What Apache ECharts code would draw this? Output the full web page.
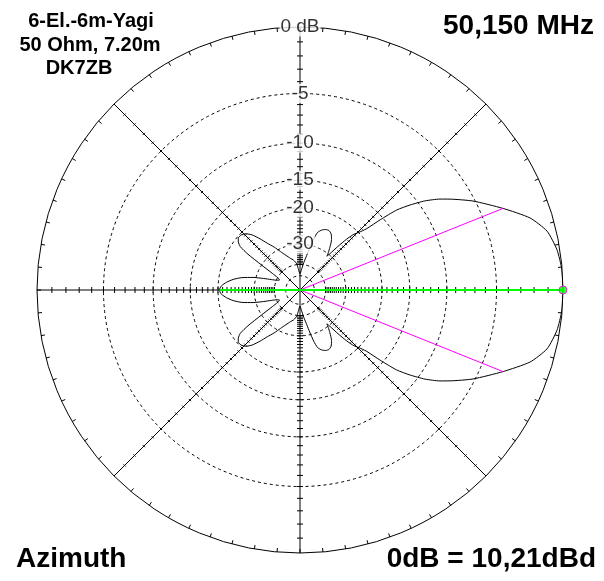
<!DOCTYPE html>
<html><head><meta charset="utf-8">
<script src="https://cdn.jsdelivr.net/npm/echarts@6/dist/echarts.min.js"></script>
<style>html,body{margin:0;padding:0;background:#fff}#c{width:604px;height:581px}</style>
</head><body><div id="c"></div>
<script>
// Azimuth in degrees (0 = forward, counter-clockwise); upper half, mirrored for the lower half
const patternAngles = [0,4.4,8.9,13.4,17.4,21.9,27.2,31.2,33,35.5,37.7,39.6,41.2,42.7,44.5,46,47.5,49,50.5,51.5,53,55,58,61,64,67,70,73,75,77,79,82,86,90,94,97,102,107,112,117,121,125,128,131,134,137,140,142,144,145.5,147,149,151,154,157,160,162.5,165,168,171,174,177,180];
const patternDb     = [0,-0.02,-0.19,-0.6,-1.5,-3.16,-5.17,-6.95,-7.8,-9.25,-10.95,-12.7,-15.5,-18.4,-20,-21,-23,-26,-29.5,-31,-29.5,-27.8,-25.5,-24.2,-23.7,-23.8,-24.3,-25.3,-27.5,-31,-34.5,-38.5,-44,-48,-44,-39.5,-37,-35.5,-33.5,-31,-28.5,-26.2,-24,-22,-20.8,-20.3,-20.3,-20.8,-21.8,-24.5,-30,-36,-40,-42,-40.5,-37,-33,-29,-25.5,-23.3,-21.8,-20.7,-20.3];
const ringDb = [-5,-10,-15,-20,-30,-40,-50];
const ringLabelDb = [0,-5,-10,-15,-20,-30];
const ringLabels = ['0 dB','-5','-10','-15','-20','-30'];
const radialAngles = [0,45,90,135,180,225,270,315];
const tickDb = Array.from({length:40},(_,i)=>-(i+1));
const beamAngles = [21.9,-21.9];
const beamDb = -3.16;
const frontDb = 0;
const backDb = -20.3;
const infoLines = ['6-El.-6m-Yagi','50 Ohm, 7.20m','DK7ZB'];
const freqText = '50,150 MHz';
const viewText = 'Azimuth';
const refText = '0dB = 10,21dBd';

// ARRL log-periodic radial scale
const sc = db => Math.pow(0.89, -db/2);

const patternData = [];
patternAngles.forEach((a,i)=>patternData.push([sc(patternDb[i]), a]));
for (let i = patternAngles.length-2; i >= 0; i--) patternData.push([sc(patternDb[i]), 360-patternAngles[i]]);

const tickData = [];
radialAngles.forEach(a => tickDb.forEach(d => tickData.push([sc(d), a, a % 90 === 0 ? 3 : 1.5])));

const chart = echarts.init(document.getElementById('c'), null, {renderer:'canvas'});
const FONT = '"Liberation Sans", Arial, sans-serif';
chart.setOption({
  animation:false,
  backgroundColor:'#fff',
  polar:{center:[300,290], radius:263},
  angleAxis:{type:'value', min:0, max:360, interval:5, startAngle:0, clockwise:false,
    axisLine:{lineStyle:{color:'#000', width:1}},
    axisTick:{show:true, inside:true, length:4, lineStyle:{color:'#000', width:1}},
    axisLabel:{show:false}, splitLine:{show:false}},
  radiusAxis:{type:'value', min:0, max:1, axisLine:{show:false}, axisTick:{show:false}, axisLabel:{show:false}, splitLine:{show:false}},
  graphic:[
    ...infoLines.map((t,i)=>({type:'text', x:[91,90,79][i], y:21.5+23.5*i, style:{text:t, font:'bold 20px '+FONT, fill:'#000', align:'center', verticalAlign:'middle'}})),
    {type:'text', x:594, y:26, style:{text:freqText, font:'bold 28px '+FONT, fill:'#000', align:'right', verticalAlign:'middle'}},
    {type:'text', x:16, y:559, style:{text:viewText, font:'bold 28px '+FONT, fill:'#000', align:'left', verticalAlign:'middle'}},
    {type:'text', x:596, y:559, style:{text:refText, font:'bold 28px '+FONT, fill:'#000', align:'right', verticalAlign:'middle'}}
  ],
  series:[
    {type:'custom', coordinateSystem:'polar', silent:true, z:1,
      data: ringDb.map(d=>[sc(d),0]),
      renderItem:(p,api)=>{const c=api.coord([0,0]); const q=api.coord([api.value(0),0]);
        return {type:'circle', shape:{cx:c[0], cy:c[1], r:Math.hypot(q[0]-c[0],q[1]-c[1])}, style:{fill:null, stroke:'#000', lineWidth:1, lineDash:[3,3]}};}},
    {type:'custom', coordinateSystem:'polar', silent:true, z:2,
      data: radialAngles.map(a=>[1,a]),
      renderItem:(p,api)=>{const c=api.coord([0,0]); const q=api.coord([1,api.value(1)]);
        return {type:'line', shape:{x1:c[0], y1:c[1], x2:q[0], y2:q[1]}, style:{stroke:'#000', lineWidth:1}};}},
    {type:'custom', coordinateSystem:'polar', silent:true, z:2,
      data: tickData,
      renderItem:(p,api)=>{const a=api.value(1)*Math.PI/180; const q=api.coord([api.value(0),api.value(1)]); const h=api.value(2);
        const px=Math.sin(a)*h, py=Math.cos(a)*h;
        return {type:'line', shape:{x1:q[0]-px, y1:q[1]-py, x2:q[0]+px, y2:q[1]+py}, style:{stroke:'#000', lineWidth:1}};}},
    {type:'line', coordinateSystem:'polar', z:3, data: patternData, symbol:'none', smooth:0.2, lineStyle:{color:'#000', width:1}},
    ...beamAngles.map(a=>({type:'line', coordinateSystem:'polar', z:4, data:[[0,0],[sc(beamDb),a]], symbol:'none', lineStyle:{color:'#ff00ff', width:1}})),
    {type:'line', coordinateSystem:'polar', z:5, data:[[sc(backDb),180],[0,0],[sc(frontDb),0]], symbol:'none', lineStyle:{color:'#00ff00', width:2}},
    {type:'scatter', coordinateSystem:'polar', z:6, data:[[sc(frontDb),0]], symbol:'circle', symbolSize:8, itemStyle:{color:'#00ff00', borderColor:'#ff00ff', borderWidth:1}},
    {type:'scatter', coordinateSystem:'polar', z:7, data: ringLabelDb.map(d=>[sc(d),90]), symbolSize:0,
      label:{show:true, position:'inside', formatter:(p)=>ringLabels[p.dataIndex], color:'#000', fontSize:19, fontFamily:FONT, backgroundColor:'#fff', padding:[0,1]}}
  ]
});
</script></body></html>
